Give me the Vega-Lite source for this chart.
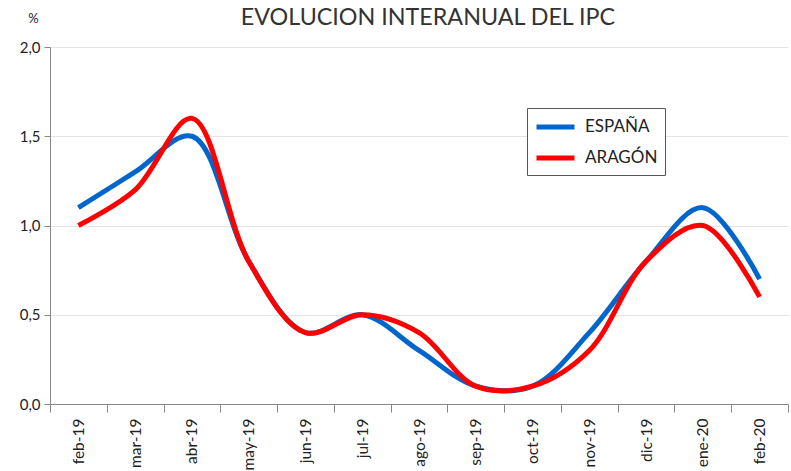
{
  "$schema": "https://vega.github.io/schema/vega-lite/v6.json",
  "autosize": {"type": "none"},
  "width": 738,
  "height": 357,
  "padding": {"left": 50, "top": 47, "right": 3, "bottom": 67},
  "background": "white",
  "config": {
    "font": "Lato",
    "view": {"stroke": null}
  },
  "title": {
    "text": "EVOLUCION INTERANUAL DEL IPC",
    "frame": "group",
    "anchor": "middle",
    "dx": 9,
    "offset": -18,
    "fontSize": 23.3,
    "fontWeight": "normal",
    "font": "Lato",
    "color": "#333"
  },
  "data": {
    "values": [
      {"mes": "feb-19", "serie": "ESPAÑA", "v": 1.1},
      {"mes": "mar-19", "serie": "ESPAÑA", "v": 1.3},
      {"mes": "abr-19", "serie": "ESPAÑA", "v": 1.5},
      {"mes": "may-19", "serie": "ESPAÑA", "v": 0.8},
      {"mes": "jun-19", "serie": "ESPAÑA", "v": 0.4},
      {"mes": "jul-19", "serie": "ESPAÑA", "v": 0.5},
      {"mes": "ago-19", "serie": "ESPAÑA", "v": 0.3},
      {"mes": "sep-19", "serie": "ESPAÑA", "v": 0.1},
      {"mes": "oct-19", "serie": "ESPAÑA", "v": 0.1},
      {"mes": "nov-19", "serie": "ESPAÑA", "v": 0.4},
      {"mes": "dic-19", "serie": "ESPAÑA", "v": 0.8},
      {"mes": "ene-20", "serie": "ESPAÑA", "v": 1.1},
      {"mes": "feb-20", "serie": "ESPAÑA", "v": 0.7},
      {"mes": "feb-19", "serie": "ARAGÓN", "v": 1.0},
      {"mes": "mar-19", "serie": "ARAGÓN", "v": 1.2},
      {"mes": "abr-19", "serie": "ARAGÓN", "v": 1.6},
      {"mes": "may-19", "serie": "ARAGÓN", "v": 0.8},
      {"mes": "jun-19", "serie": "ARAGÓN", "v": 0.4},
      {"mes": "jul-19", "serie": "ARAGÓN", "v": 0.5},
      {"mes": "ago-19", "serie": "ARAGÓN", "v": 0.4},
      {"mes": "sep-19", "serie": "ARAGÓN", "v": 0.1},
      {"mes": "oct-19", "serie": "ARAGÓN", "v": 0.1},
      {"mes": "nov-19", "serie": "ARAGÓN", "v": 0.3},
      {"mes": "dic-19", "serie": "ARAGÓN", "v": 0.8},
      {"mes": "ene-20", "serie": "ARAGÓN", "v": 1.0},
      {"mes": "feb-20", "serie": "ARAGÓN", "v": 0.6}
    ]
  },
  "mark": {"type": "line", "interpolate": "catmull-rom", "strokeWidth": 5, "strokeCap": "butt"},
  "encoding": {
    "x": {
      "field": "mes",
      "type": "ordinal",
      "sort": null,
      "scale": {"type": "band", "paddingInner": 0, "paddingOuter": 0},
      "axis": {
        "title": null,
        "labelAngle": -90,
        "labelFontSize": 15.5,
        "labelColor": "#222",
        "labelPadding": 6,
        "tickBand": "extent",
        "tickSize": 8,
        "tickColor": "#888",
        "domainColor": "#888",
        "grid": false
      }
    },
    "y": {
      "field": "v",
      "type": "quantitative",
      "scale": {"domain": [0, 2], "nice": false},
      "axis": {
        "values": [0, 0.5, 1, 1.5, 2],
        "format": ".1f",
        "formatType": "number",
        "labelExpr": "replace(datum.label, '.', ',')",
        "title": "%",
        "titleAngle": 0,
        "titleFontSize": 13,
        "titleFontWeight": "normal",
        "titleColor": "#222",
        "titleX": -17,
        "titleY": -22,
        "titleAlign": "center",
        "labelFontSize": 15,
        "labelColor": "#222",
        "labelPadding": 4,
        "tickSize": 6,
        "tickColor": "#888",
        "domainColor": "#888",
        "gridColor": "#e4e4e4"
      }
    },
    "color": {
      "field": "serie",
      "type": "nominal",
      "sort": ["ESPAÑA", "ARAGÓN"],
      "scale": {"domain": ["ESPAÑA", "ARAGÓN"], "range": ["#0066CC", "#FF0000"]},
      "legend": {
        "title": null,
        "orient": "none",
        "legendX": 477,
        "legendY": 61,
        "symbolType": "M-1,0H3",
        "symbolSize": 361,
        "symbolStrokeWidth": 5,
        "labelFontSize": 17,
        "labelColor": "#222",
        "rowPadding": 9,
        "padding": 7,
        "strokeColor": "#555",
        "fillColor": "white",
        "labelOffset": 27
      }
    }
  }
}
